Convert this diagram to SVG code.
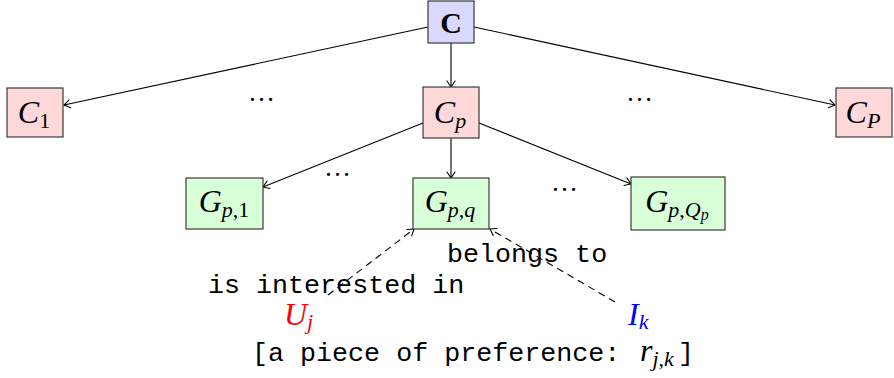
<svg xmlns="http://www.w3.org/2000/svg" width="894" height="378" viewBox="0 0 894 378">
  <style>
    .box { stroke: #3a3a3a; stroke-width: 1.2; }
    .root { fill: #d9d9ff; }
    .cls { fill: #ffd9d9; }
    .grp { fill: #d9ffd9; }
    .m { font-family: "Liberation Serif", "DejaVu Serif", serif; font-style: italic; font-size: 32px; fill: #000; }
    .up { font-style: normal; }
    .sub { font-size: 22px; }
    .subsub { font-size: 16px; }
    .tt { font-family: "Liberation Mono", "DejaVu Sans Mono", monospace; font-size: 26.7px; fill: #000; }
    .dots { font-family: "Liberation Serif", serif; font-size: 27px; fill: #000; letter-spacing: 1px; }
    .edge { fill: none; stroke: #000; stroke-width: 1.1; }
    .dash { stroke-dasharray: 7 5; }
  </style>
  <defs>
    <marker id="arr" markerUnits="userSpaceOnUse" markerWidth="12" markerHeight="12" viewBox="-8 -6 10 12" refX="0" refY="0" orient="auto" overflow="visible">
      <path d="M -6 -4 Q -1.5 -1 0 0 Q -1.5 1 -6 4" fill="none" stroke="#000" stroke-width="1.1" stroke-dasharray="none" stroke-linecap="round"/>
    </marker>
  </defs>

  <!-- connectors -->
  <g id="edges" class="edge" marker-end="url(#arr)">
    <line x1="428" y1="27" x2="64" y2="105"/>
    <line x1="451" y1="43" x2="451" y2="87"/>
    <line x1="474" y1="27" x2="835" y2="105"/>
    <line x1="423" y1="123" x2="263" y2="187"/>
    <line x1="451" y1="138" x2="451" y2="178"/>
    <line x1="479" y1="123" x2="631" y2="184"/>
    <line class="dash" x1="328" y1="295" x2="414" y2="229"/>
    <line class="dash" x1="615" y1="302" x2="490" y2="229"/>
  </g>

  <!-- root class -->
  <g id="C">
    <rect class="box root" x="428" y="1" width="46" height="42"/>
    <text x="451" y="33" text-anchor="middle" font-family="Liberation Serif, serif" font-weight="bold" font-size="30">C</text>
  </g>

  <!-- class level -->
  <g id="C1">
    <rect class="box cls" x="7" y="88" width="56" height="49"/>
    <text class="m" x="34" y="123" text-anchor="middle">C<tspan class="sub up" dy="5">1</tspan></text>
  </g>
  <g id="Cp">
    <rect class="box cls" x="423" y="87" width="56" height="51"/>
    <text class="m" x="450" y="123" text-anchor="middle">C<tspan class="sub" dy="5">p</tspan></text>
  </g>
  <g id="CP">
    <rect class="box cls" x="836" y="88" width="56" height="49"/>
    <text class="m" x="863" y="123" text-anchor="middle">C<tspan class="sub" dy="5">P</tspan></text>
  </g>

  <!-- group level -->
  <g id="Gp1">
    <rect class="box grp" x="186" y="178" width="77" height="51"/>
    <text class="m" x="224" y="212" text-anchor="middle">G<tspan class="sub" dy="5">p</tspan><tspan class="sub up">,1</tspan></text>
  </g>
  <g id="Gpq">
    <rect class="box grp" x="413" y="178" width="76" height="51"/>
    <text class="m" x="450" y="212" text-anchor="middle">G<tspan class="sub" dy="5">p</tspan><tspan class="sub up">,</tspan><tspan class="sub">q</tspan></text>
  </g>
  <g id="GpQp">
    <rect class="box grp" x="631" y="177" width="94" height="53"/>
    <text class="m" x="677" y="212" text-anchor="middle">G<tspan class="sub" dy="5">p</tspan><tspan class="sub up">,</tspan><tspan class="sub">Q</tspan><tspan class="subsub" dy="3">p</tspan></text>
  </g>

  <!-- ellipses between siblings -->
  <g id="ellipses" class="dots">
    <text x="262" y="101" text-anchor="middle">…</text>
    <text x="640" y="101" text-anchor="middle">…</text>
    <text x="338" y="176" text-anchor="middle">…</text>
    <text x="565" y="191" text-anchor="middle">…</text>
  </g>

  <!-- relation labels -->
  <g id="labels">
    <text class="tt" x="447" y="262">belongs to</text>
    <text class="tt" x="208" y="293">is interested in</text>
  </g>

  <g id="Uj">
    <text class="m" x="284" y="325" style="fill:#ff0000">U<tspan class="sub" dy="4">j</tspan></text>
  </g>
  <g id="Ik">
    <text class="m" x="628" y="325" style="fill:#0000ff">I<tspan class="sub" dy="4">k</tspan></text>
  </g>

  <g id="preference">
    <text class="tt" x="252" y="361">[a piece of preference:</text>
    <text class="m" x="640" y="361">r<tspan class="sub" dy="5">j</tspan><tspan class="sub up">,</tspan><tspan class="sub">k</tspan></text>
    <text class="tt" x="678" y="361">]</text>
  </g>
</svg>
